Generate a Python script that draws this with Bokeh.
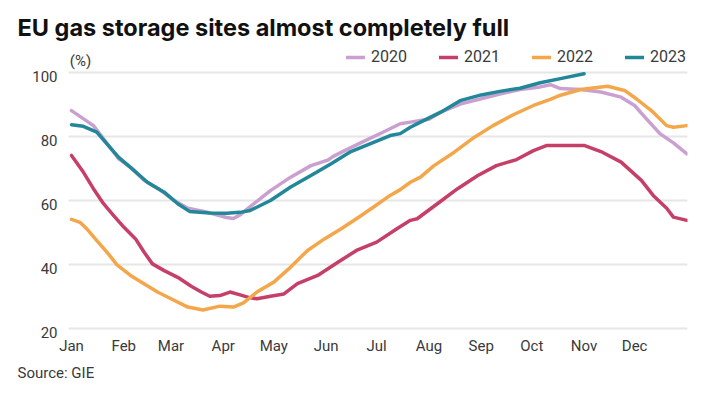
from bokeh.plotting import figure
from bokeh.models import (Legend, LegendItem, Label, FixedTicker, Range1d, Title,
                          LinearAxis, Grid)
from bokeh.embed import file_html
from bokeh.resources import INLINE

# ---- data (day of year, % full) ----
days_2020 = [0, 13, 19, 28, 35, 43, 53, 61, 69, 80, 92, 96, 100, 106, 112, 118, 130, 142, 152, 155, 162, 173, 185, 195, 201, 207, 212, 219, 231, 243, 254, 266, 278, 284, 290, 302, 314, 326, 334, 341, 349, 357, 365]
vals_2020 = [88.0, 83.3, 79.2, 72.9, 70.3, 66.2, 63.0, 59.9, 57.5, 56.3, 54.6, 54.3, 55.4, 58.0, 60.5, 63.0, 67.2, 70.8, 72.5, 73.6, 75.5, 78.3, 81.3, 83.9, 84.4, 84.9, 85.3, 87.5, 90.1, 91.7, 93.2, 94.6, 95.4, 96.1, 94.9, 94.6, 93.8, 92.2, 89.6, 85.4, 80.8, 77.9, 74.5]

days_2021 = [0, 7, 13, 19, 25, 31, 38, 43, 48, 55, 63, 71, 77, 82, 88, 94, 100, 106, 110, 118, 126, 134, 146, 158, 169, 181, 193, 201, 205, 217, 229, 241, 252, 264, 274, 282, 290, 304, 314, 326, 338, 345, 353, 357, 365]
vals_2021 = [74.0, 68.8, 63.6, 58.9, 55.2, 51.6, 47.9, 43.8, 40.1, 38.0, 35.9, 33.1, 31.3, 30.0, 30.2, 31.3, 30.4, 29.5, 29.2, 30.0, 30.7, 33.9, 36.5, 40.6, 44.3, 46.9, 51.1, 53.7, 54.2, 58.9, 63.6, 67.7, 70.8, 72.7, 75.5, 77.1, 77.1, 77.1, 75.2, 71.9, 66.2, 61.5, 57.5, 54.7, 53.7]

days_2022 = [0, 5, 9, 15, 21, 27, 35, 43, 51, 59, 69, 78, 88, 96, 102, 110, 120, 130, 140, 150, 160, 169, 179, 189, 195, 201, 207, 215, 227, 239, 250, 262, 274, 284, 290, 302, 318, 328, 335, 345, 353, 357, 365]
vals_2022 = [54.0, 53.1, 51.1, 47.4, 43.8, 39.8, 36.5, 33.9, 31.3, 29.2, 26.6, 25.7, 26.9, 26.6, 27.9, 31.3, 34.4, 39.1, 44.3, 47.9, 51.1, 54.2, 57.8, 61.5, 63.3, 65.6, 67.2, 70.8, 75.0, 79.7, 83.3, 86.7, 89.6, 91.5, 92.8, 94.6, 95.6, 94.3, 91.7, 87.5, 83.3, 82.8, 83.3]

days_2023 = [0, 7, 15, 21, 28, 36, 45, 55, 63, 70, 82, 92, 100, 106, 118, 130, 142, 154, 165, 177, 189, 195, 201, 207, 219, 231, 243, 254, 266, 278, 290, 304]
vals_2023 = [83.6, 83.1, 81.3, 77.6, 73.4, 69.8, 65.6, 62.5, 58.9, 56.5, 56.0, 55.9, 56.2, 56.8, 59.9, 64.1, 67.7, 71.4, 75.0, 77.6, 80.2, 80.8, 82.8, 84.4, 87.5, 91.2, 92.9, 94.0, 95.0, 96.7, 98.0, 99.5]

month_starts = [0, 31, 59, 90, 120, 151, 181, 212, 243, 273, 304, 334]
month_labels = ["Jan", "Feb", "Mar", "Apr", "May", "Jun", "Jul", "Aug", "Sep", "Oct", "Nov", "Dec"]
y_ticks = [20, 40, 60, 80, 100]

series_names = ["2020", "2021", "2022", "2023"]
series_colors = ["#C9A0CF", "#C63F69", "#F4A64A", "#228799"]

FONT = "Roboto"
TXT = "#3a3a3a"

p = figure(width=707, height=397, output_backend="svg", toolbar_location=None,
           x_range=Range1d(-1.78, 365.36), y_range=Range1d(17.41, 108.34),
           y_axis_location=None,
           min_border_left=68, min_border_right=20, min_border_top=45, min_border_bottom=61,
           background_fill_color="white", border_fill_color="white")
p.outline_line_color = None

# tick-label axis sits on a range nudged so labels hang just under their gridlines
p.extra_y_ranges = {"labels": Range1d(18.81, 109.74)}
yax = LinearAxis(y_range_name="labels", ticker=FixedTicker(ticks=y_ticks))
p.add_layout(yax, "left")

p.add_layout(Grid(dimension=1, ticker=FixedTicker(ticks=y_ticks),
                  grid_line_color="#E6E6E6", grid_line_width=2))

data = [(days_2020, vals_2020), (days_2021, vals_2021), (days_2022, vals_2022), (days_2023, vals_2023)]
items = []
for (d, v), name, col in zip(data, series_names, series_colors):
    r = p.line(d, v, line_color=col, line_width=3.5, line_join="round", line_cap="round")
    items.append(LegendItem(label=name, renderers=[r]))

# axes
p.xaxis.ticker = FixedTicker(ticks=month_starts)
p.xaxis.major_label_overrides = {m: l for m, l in zip(month_starts, month_labels)}
for ax in (p.xaxis[0], yax):
    ax.axis_line_color = None
    ax.major_tick_line_color = None
    ax.minor_tick_line_color = None
    ax.major_tick_in = 0
    ax.major_tick_out = 0
    ax.major_label_text_font = FONT
    ax.major_label_text_font_size = "15px"
    ax.major_label_text_color = TXT
p.xaxis.major_label_standoff = 0
yax.major_label_standoff = 11
p.xgrid.grid_line_color = None

legend = Legend(items=items, orientation="horizontal", location=(278, 270),
                glyph_width=19, glyph_height=16, label_standoff=6, spacing=32,
                padding=0, margin=0, border_line_color=None, background_fill_alpha=0,
                label_text_font=FONT, label_text_font_size="16px", label_text_color=TXT,
                label_height=16)
p.add_layout(legend, "center")

p.add_layout(Label(x=1.3, y=276, x_units="screen", y_units="screen", text="(%)",
                   text_font=FONT, text_font_size="15px", text_color=TXT,
                   text_baseline="middle"))

p.title.text = "EU gas storage sites almost completely full"
p.title.align = "left"
p.title.offset = -51
p.title.text_font = "Inter"
p.title.text_font_size = "23.5px"
p.title.text_font_style = "bold"
p.title.text_color = "#111111"
p.title.standoff = 8

src = Title(text="Source: GIE", align="left", offset=-51, text_font=FONT,
            text_font_size="15px", text_font_style="normal", text_color=TXT, standoff=9)
p.add_layout(src, "below")

open("out.html", "w").write(file_html(p, INLINE))
